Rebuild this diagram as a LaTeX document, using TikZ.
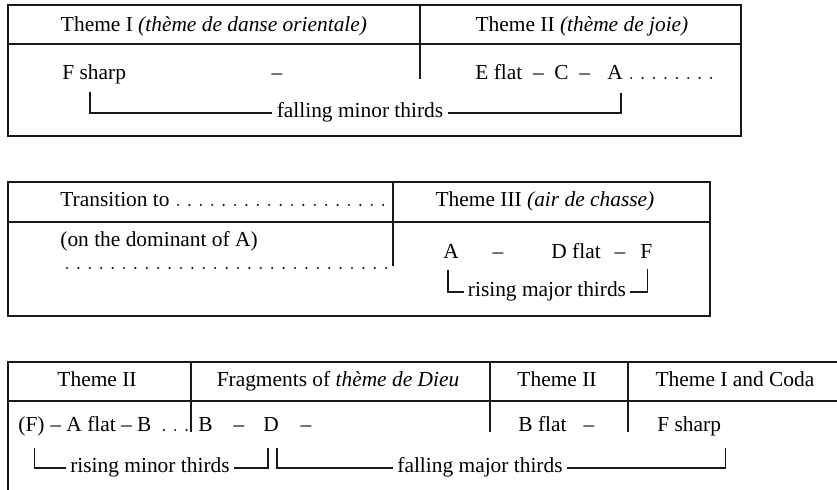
\documentclass[tikz,border=0pt]{standalone}
\usepackage{fontspec}
\setmainfont{Liberation Serif}
\usetikzlibrary{calc,positioning}

\begin{document}
\begin{tikzpicture}[
    x=0.5pt, y=-0.5pt,
    font=\fontsize{10.7}{12}\selectfont,
    frame/.style={
        draw=black!90,
        line width=0.9pt
    },
    divider/.style={
        draw=black!90,
        line width=0.8pt
    },
    head/.style={anchor=base, inner sep=0pt},
    note/.style={anchor=base west, inner sep=0pt},
    pitch/.style={anchor=base, inner sep=0pt},
    tag/.style={anchor=base, inner sep=2pt},
    bracket/.style={draw=black!90, line width=0.8pt},
    leader/.style={
        draw=black!90,
        line width=1.2pt,
        line cap=round,
        dash pattern=on 0pt off 5.7pt
    }
]

\clip (0,0) rectangle (837,490);

% =========================================================
% TABLA 1: TEMA I / TEMA II
% =========================================================

\draw[frame] (8,5) rectangle (741,136);
\draw[divider] (8,44) -- (741,44);
\draw[divider] (420,5) -- (420,79);

\node[head] (themeone) at (214,32)
{Theme I \textit{(thème de danse orientale)}};
\node[head] (themetwo) at (582,32)
{Theme II \textit{(thème de joie)}};

\node[note] (fsharp) at (62,80) {F sharp};
\node[pitch] (dashone) at (277,80) {–};
\node[note] (eflat) at (475,80) {E flat\enspace–\enspace C\enspace–};
\node[note] (aone) at (607,80) {A};
\draw[leader] ($(aone.base east)+(8,-2)$) -- ++(80,0);

\node[tag] (fallminor) at (360,118) {falling minor thirds};

\draw[bracket] ($(fsharp.base)+(-4,12)$) |- (fallminor.west);
\draw[bracket] (fallminor.east) -| ($(aone.base)+(6,13)$);

% =========================================================
% TABLA 2: TRANSICIÓN / TEMA III
% =========================================================

\draw[frame] (8,182) rectangle (710,316);
\draw[divider] (8,222) -- (710,222);
\draw[divider] (393,182) -- (393,266);

\node[note] (trans) at (60,207) {Transition to};
\draw[leader] ($(trans.base east)+(8,-2)$) -- ++(208,0);
\node[head] (themethree) at (545,207)
{Theme III \textit{(air de chasse)}};

\node[note] (dominant) at (60,247) {(on the dominant of A)};
\draw[leader] ($(dominant.base west)+(7,21)$) -- ++(322,0);

\node[note] (athree) at (443,259) {A};
\node[pitch] (dashtwo) at (498,259) {–};
\node[note] (dflat) at (551,259) {D flat};
\node[pitch] (dashthree) at (620,259) {–};
\node[note] (fthree) at (640,259) {F};

\node[tag] (risemajor) at (547,297) {rising major thirds};

\draw[bracket] ($(athree.base)+(-3,11)$) |- (risemajor.west);
\draw[bracket] (risemajor.east) -| ($(fthree.base)+(1,10)$);

% =========================================================
% TABLA 3: REEXPOSICIÓN Y CODA
% =========================================================

\draw[frame] (8,362) rectangle (850,500);
\draw[divider] (8,401) -- (850,401);
\draw[divider] (191,362) -- (191,432);
\draw[divider] (490,362) -- (490,432);
\draw[divider] (628,362) -- (628,432);

\node[head] (themetwoa) at (97,387) {Theme II};
\node[head] (fragments) at (338,387) {Fragments of \textit{thème de Dieu}};
\node[head] (themetwob) at (557,387) {Theme II};
\node[head] (coda) at (735,387) {Theme I and Coda};

\node[note] (fsrc) at (18,432) {(F)};
\node[note] (aflatb) at (50,432) {– A flat – B};
\draw[leader] ($(aflatb.base east)+(12,-2)$) -- ++(24,0);

\node[note] (btwo) at (198,432) {B};
\node[pitch] (dashfour) at (239,432) {–};
\node[note] (dtwo) at (263,432) {D};
\node[pitch] (dashfive) at (306,432) {–};

\node[note] (bflat) at (518,432) {B flat};
\node[pitch] (dashsix) at (589,432) {–};

\node[note] (fsharpcoda) at (657,432) {F sharp};

\node[tag] (riseminor) at (150,473) {rising minor thirds};
\node[tag] (fallmajor) at (480,473) {falling major thirds};

\draw[bracket] ($(fsrc.base)+(3,16)$) |- (riseminor.west);
\draw[bracket] (riseminor.east) -| ($(dtwo.base)+(-3,16)$);
\draw[bracket] ($(dtwo.base)+(6,16)$) |- (fallmajor.west);
\draw[bracket] (fallmajor.east) -| ($(fsharpcoda.base east)+(4,16)$);

\end{tikzpicture}
\end{document}
